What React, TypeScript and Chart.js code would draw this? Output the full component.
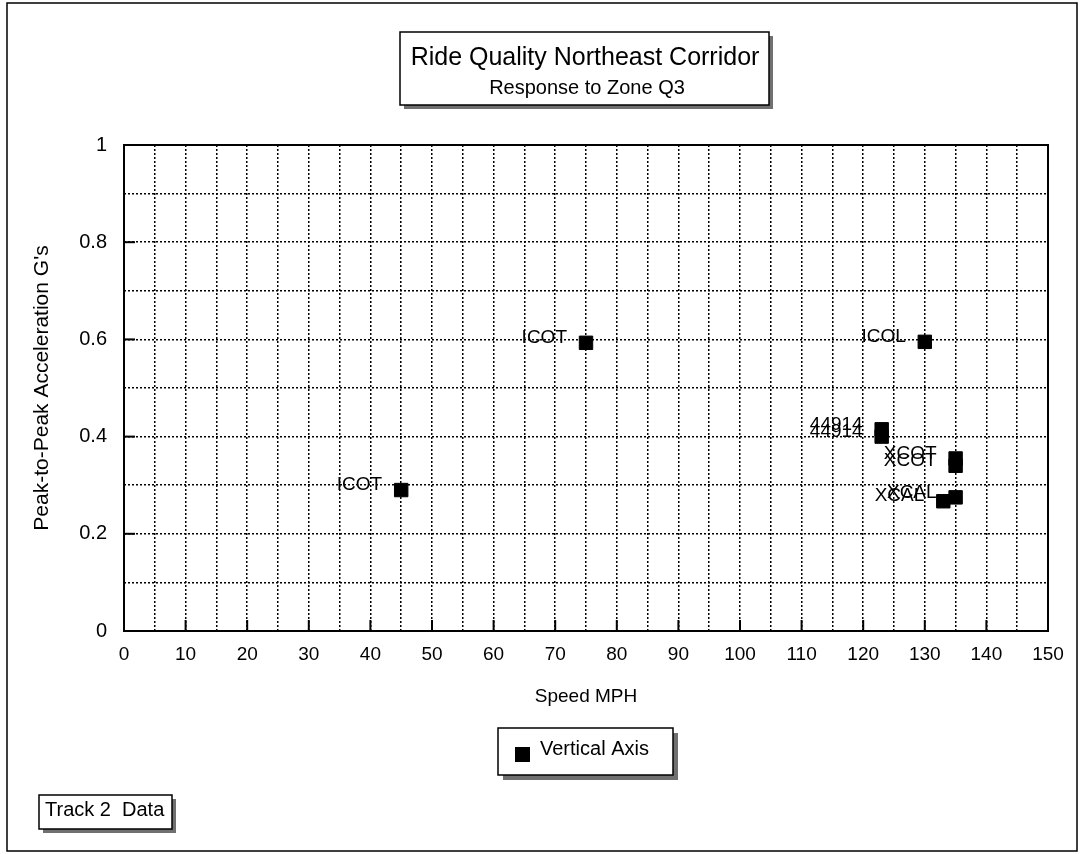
import React, { useEffect, useRef } from 'react';
import { Chart, registerables } from 'chart.js';

Chart.register(...registerables);

// ---- data ----
const speeds = [45, 75, 130, 123, 123, 135, 135, 133, 135];
const accelerations = [0.29, 0.593, 0.595, 0.415, 0.4, 0.355, 0.34, 0.267, 0.275];
const pointNames = ['ICOT', 'ICOT', 'ICOL', '44914', '44914', 'XCOT', 'XCOT', 'XCAL', 'XCAL'];
const seriesName = 'Vertical Axis';
const titleLines = ['Ride Quality Northeast Corridor', 'Response to Zone Q3'];
const xTitle = 'Speed MPH';
const yTitle = "Peak-to-Peak Acceleration G's";
const noteText = 'Track 2  Data';
const xRange = [0, 150];
const xGridStep = 5;
const xLabelStep = 10;
const yRange = [0, 1];
const yGridStep = 0.1;
const yLabelStep = 0.2;

const FONT = '"Liberation Sans", Arial, Helvetica, sans-serif';

function isMultiple(v: number, step: number) {
  const r = v / step;
  return Math.abs(r - Math.round(r)) < 1e-6;
}

function shadowBox(ctx: CanvasRenderingContext2D, x: number, y: number, w: number, h: number, sh: number) {
  ctx.fillStyle = '#707070';
  ctx.fillRect(x + sh, y + sh, w, h);
  ctx.fillStyle = '#ffffff';
  ctx.fillRect(x, y, w, h);
  ctx.strokeStyle = '#000';
  ctx.lineWidth = 1.5;
  ctx.strokeRect(x, y, w, h);
}

const decoPlugin = {
  id: 'deco',
  beforeDatasetsDraw(chart: any) {
    const { ctx, chartArea: a, scales } = chart;
    const xs = scales.x;
    const ys = scales.y;
    ctx.save();
    ctx.strokeStyle = '#000';
    ctx.lineWidth = 2;
    ctx.setLineDash([]);
    ctx.strokeRect(a.left, a.top, a.right - a.left, a.bottom - a.top);
    ctx.lineWidth = 2;
    xs.ticks.forEach((t: any) => {
      if (isMultiple(t.value, xLabelStep) && t.value > xRange[0] && t.value < xRange[1]) {
        const px = xs.getPixelForValue(t.value);
        ctx.beginPath();
        ctx.moveTo(px, a.bottom);
        ctx.lineTo(px, a.bottom - 11);
        ctx.stroke();
      }
    });
    ys.ticks.forEach((t: any) => {
      if (isMultiple(t.value, yLabelStep) && t.value > yRange[0] && t.value < yRange[1]) {
        const py = ys.getPixelForValue(t.value);
        ctx.beginPath();
        ctx.moveTo(a.left, py);
        ctx.lineTo(a.left + 11, py);
        ctx.stroke();
      }
    });
    ctx.restore();
  },
  afterDatasetsDraw(chart: any) {
    const { ctx } = chart;
    const meta = chart.getDatasetMeta(0);
    ctx.save();
    ctx.fillStyle = '#000';
    ctx.font = `19px ${FONT}`;
    ctx.textAlign = 'right';
    ctx.textBaseline = 'middle';
    meta.data.forEach((el: any, i: number) => {
      ctx.fillText(pointNames[i], el.x - 19, el.y - 5);
    });
    ctx.restore();
  },
  afterDraw(chart: any) {
    const { ctx } = chart;
    ctx.save();
    // outer frame
    ctx.strokeStyle = '#000';
    ctx.lineWidth = 1.5;
    ctx.strokeRect(7, 3, 1070, 848);

    // title box
    shadowBox(ctx, 400, 32, 369, 73, 4);
    ctx.fillStyle = '#000';
    ctx.textAlign = 'center';
    ctx.textBaseline = 'alphabetic';
    ctx.font = `25px ${FONT}`;
    ctx.fillText(titleLines[0], 585, 65);
    ctx.font = `20px ${FONT}`;
    ctx.fillText(titleLines[1], 587, 94);

    // legend box
    shadowBox(ctx, 498, 728, 175, 47, 5);
    ctx.fillStyle = '#000';
    ctx.fillRect(515, 747, 15, 15);
    ctx.textAlign = 'left';
    ctx.font = `20px ${FONT}`;
    ctx.fillText(seriesName, 540, 755);

    // note box
    shadowBox(ctx, 39, 795, 133, 34, 4);
    ctx.fillStyle = '#000';
    ctx.font = `20px ${FONT}`;
    ctx.fillText(noteText, 45, 816);
    ctx.restore();
  },
};

export default function App() {
  const ref = useRef<HTMLCanvasElement | null>(null);
  useEffect(() => {
    if (!ref.current) return;
    const chart = new Chart(ref.current, {
      type: 'scatter',
      data: {
        datasets: [
          {
            label: seriesName,
            data: speeds.map((s, i) => ({ x: s, y: accelerations[i] })),
            backgroundColor: '#000',
            borderColor: '#000',
            borderWidth: 1,
            pointStyle: 'rect',
            pointRadius: 9.5,
            pointHoverRadius: 9.5,
          },
        ],
      },
      options: {
        animation: false,
        responsive: false,
        devicePixelRatio: 1,
        events: [],
        layout: { padding: { left: 0, top: 145, right: 32, bottom: 143 } },
        plugins: {
          legend: { display: false },
          title: { display: false },
          tooltip: { enabled: false },
        },
        scales: {
          x: {
            type: 'linear',
            min: xRange[0],
            max: xRange[1],
            afterFit: (s: any) => {
              s.height = 80;
            },
            ticks: {
              stepSize: xGridStep,
              autoSkip: false,
              maxRotation: 0,
              padding: 12,
              color: '#000',
              font: { family: FONT, size: 19 },
              callback: (v: any) => (isMultiple(Number(v), xLabelStep) ? String(Math.round(Number(v))) : ''),
            },
            grid: {
              color: '#000',
              lineWidth: 1.5,
              drawTicks: false,
            },
            border: { display: false, dash: [2, 2] },
            title: {
              display: true,
              text: xTitle,
              color: '#000',
              font: { family: FONT, size: 19 },
              padding: { top: 0, bottom: 3 },
            },
          },
          y: {
            type: 'linear',
            min: yRange[0],
            max: yRange[1],
            afterFit: (s: any) => {
              s.width = 124;
            },
            ticks: {
              stepSize: yGridStep,
              autoSkip: false,
              padding: 17,
              color: '#000',
              font: { family: FONT, size: 20 },
              callback: (v: any) => {
                const n = Number(v);
                if (!isMultiple(n, yLabelStep)) return '';
                if (isMultiple(n, 1)) return String(Math.round(n));
                return n.toFixed(1);
              },
            },
            grid: {
              color: '#000',
              lineWidth: 1.5,
              drawTicks: false,
            },
            border: { display: false, dash: [2, 2] },
            title: {
              display: true,
              text: yTitle,
              color: '#000',
              font: { family: FONT, size: 21 },
              padding: { top: 30, bottom: 0 },
            },
          },
        },
      },
      plugins: [decoPlugin],
    });
    return () => chart.destroy();
  }, []);

  return (
    <div style={{ position: 'absolute', left: 0, top: 0, width: 1080, height: 854, background: '#fff' }}>
      <canvas ref={ref} width={1080} height={854} />
    </div>
  );
}
